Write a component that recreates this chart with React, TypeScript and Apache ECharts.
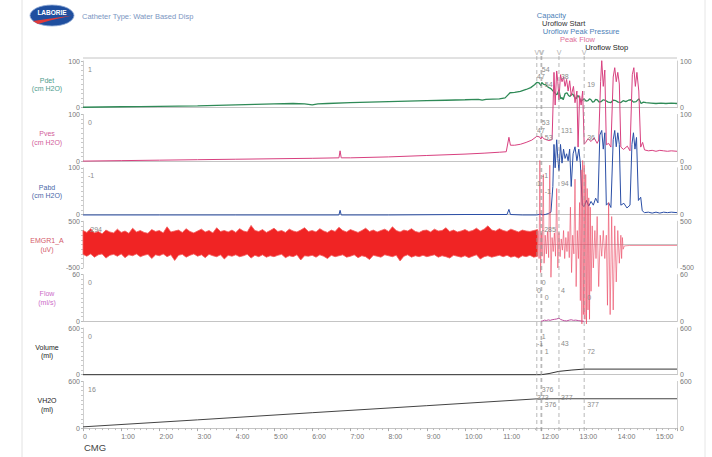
import React, { useEffect, useRef } from "react";
import * as echarts from "echarts";

const FONT = "'Liberation Sans', Arial, sans-serif";

// ---- layout of the stacked channel panels ----
const PLOT_LEFT = 83;
const PLOT_RIGHT = 35;
const PANEL_TOP = 61;
const PANEL_PITCH = 53.4;
const PANEL_HEIGHT = 46.7;
const TIME_MAX = 15.55; // minutes

// ---- channels ----
const channelNames = ["Pdet", "Pves", "Pabd", "EMGR1_A", "Flow", "Volume", "VH2O"];
const channelUnits = ["(cm H2O)", "(cm H2O)", "(cm H2O)", "(uV)", "(ml/s)", "(ml)", "(ml)"];
const channelMin = [0, 0, 0, -500, 0, 0, 0];
const channelMax = [100, 100, 100, 500, 60, 600, 600];
const titleColors = ["#4e9c8c", "#d2609a", "#4a68a8", "#d45a6a", "#cc6cc8", "#222222", "#222222"];
const traceColors = ["#2f8a57", "#d8407f", "#2a4ea6", "#f02424", "#c050a0", "#333333", "#444444"];

// ---- events (minutes) ----
const eventNames = ["Capacity", "Uroflow Start", "Uroflow Peak Pressure", "Peak Flow", "Uroflow Stop"];
const eventTimes = [11.88, 11.99, 12.01, 12.46, 13.12];
const eventColors = ["#4d7fb8", "#333333", "#4d7fb8", "#e0709a", "#222222"];
const eventRows = [0, 1, 2, 1, 2];
const eventDx = [5, -4, 3, 2, 3];

// values read out at t = 0 and at each event, per channel
const startValues = ["1", "0", "-1", "-294", "0", "0", "16"];
const eventValues: (string | null)[][] = [
  ["54", "47", "54", "38", "19"],
  ["53", "47", "53", "131", "36"],
  ["-1", "1", "-1", "94", null],
  ["-285", null, null, null, null],
  ["0", "0", "0", "4", "0"],
  ["1", "-1", "1", "43", "72"],
  ["376", "373", "376", "377", "377"],
];

// ---- traces: [minutes, value] ----
const pdetData = [
  [0, 1], [0.5, 1.5], [1, 2], [1.5, 2.5], [2, 3], [2.5, 3.5], [3, 4], [3.5, 5], [4, 6], [4.5, 7],
  [5, 8], [5.5, 9], [5.8, 8], [6.0, 6], [6.15, 8], [6.4, 9], [7, 11], [7.5, 12], [8, 13], [8.5, 14],
  [9, 15], [9.5, 16], [10, 17], [10.35, 18], [10.45, 16], [10.55, 18], [10.9, 19], [11.05, 21],
  [11.12, 27], [11.18, 32], [11.3, 33], [11.45, 35], [11.6, 39], [11.72, 43], [11.82, 49], [11.88, 54],
  [11.94, 53], [11.99, 47], [12.01, 54], [12.06, 50], [12.12, 49], [12.16, 45], [12.2, 43], [12.25, 41],
  [12.29, 37], [12.33, 34], [12.37, 30], [12.41, 28], [12.46, 38], [12.49, 25], [12.51, 19], [12.54, 22],
  [12.57, 17], [12.62, 30], [12.67, 32], [12.71, 26], [12.75, 24], [12.79, 30], [12.83, 28], [12.87, 22],
  [12.91, 19], [12.95, 26], [12.98, 24], [13.01, 18], [13.04, 15], [13.09, 17], [13.12, 19], [13.17, 14],
  [13.22, 15], [13.26, 19], [13.3, 17], [13.34, 12], [13.38, 13], [13.42, 18], [13.46, 17], [13.51, 12],
  [13.56, 13], [13.62, 17], [13.69, 15], [13.75, 12], [13.82, 11], [13.88, 16], [13.95, 15], [14.01, 12],
  [14.08, 11], [14.14, 15], [14.21, 13], [14.28, 16], [14.35, 17], [14.41, 12], [14.48, 13], [14.55, 19],
  [14.61, 9], [14.67, 12], [14.74, 11], [14.87, 10], [15.0, 9], [15.13, 10], [15.26, 9], [15.4, 10], [15.55, 9],
];

const pvesData = [
  [0, 0], [1, 1], [2, 2], [3, 3], [4, 4], [5, 5], [6, 6], [6.7, 7], [6.73, 22], [6.76, 7], [7, 7],
  [8, 9], [9, 12], [10, 15], [10.5, 17], [10.9, 19], [11.08, 20], [11.15, 51], [11.19, 34], [11.3, 34],
  [11.45, 36], [11.6, 40], [11.75, 45], [11.88, 53], [11.95, 52], [11.99, 47], [12.01, 53], [12.06, 48],
  [12.12, 46], [12.2, 44], [12.28, 46], [12.33, 190], [12.36, 120], [12.4, 193], [12.43, 170], [12.46, 131],
  [12.5, 185], [12.54, 170], [12.58, 180], [12.62, 160], [12.66, 175], [12.7, 150], [12.74, 172],
  [12.78, 140], [12.84, 160], [12.88, 125], [12.93, 150], [12.96, 30], [13.0, 140], [13.04, 120],
  [13.08, 150], [13.12, 36], [13.16, 40], [13.22, 48], [13.3, 42], [13.38, 50], [13.46, 38], [13.5, 45],
  [13.55, 170], [13.58, 215], [13.62, 160], [13.66, 195], [13.7, 35], [13.76, 38], [13.82, 30],
  [13.88, 180], [13.92, 200], [13.96, 170], [14.0, 190], [14.04, 165], [14.08, 30], [14.15, 25],
  [14.25, 32], [14.32, 22], [14.38, 185], [14.42, 200], [14.46, 160], [14.5, 190], [14.55, 150],
  [14.6, 30], [14.65, 40], [14.7, 24], [14.8, 22], [14.9, 23], [15.0, 21], [15.1, 23], [15.2, 22],
  [15.3, 21], [15.4, 22], [15.55, 21],
];

const pabdData = [
  [0, -1], [2, -1], [4, -1], [6.7, -1], [6.73, 9], [6.76, -1], [8, -1], [10, 0], [11.1, 0], [11.15, 11],
  [11.19, 0], [11.5, -1], [11.88, -1], [11.99, 1], [12.01, -1], [12.1, 0], [12.18, 2], [12.25, 5],
  [12.3, 60], [12.33, 150], [12.36, 100], [12.4, 160], [12.43, 120], [12.46, 94], [12.5, 150],
  [12.54, 110], [12.58, 140], [12.62, 120], [12.66, 130], [12.7, 115], [12.74, 140], [12.78, 60],
  [12.83, 130], [12.88, 145], [12.93, 115], [12.98, 140], [13.02, 110], [13.07, 20], [13.12, 17],
  [13.18, 30], [13.24, 18], [13.3, 28], [13.36, 20], [13.42, 35], [13.48, 25], [13.53, 170], [13.58, 180],
  [13.62, 140], [13.66, 175], [13.7, 20], [13.76, 25], [13.82, 15], [13.88, 160], [13.92, 180],
  [13.96, 145], [14.0, 175], [14.04, 150], [14.08, 20], [14.16, 24], [14.24, 14], [14.32, 20],
  [14.37, 150], [14.41, 175], [14.45, 140], [14.49, 165], [14.54, 30], [14.6, 37], [14.64, 8],
  [14.7, 4], [14.8, 5], [14.9, 3], [15.0, 5], [15.1, 3], [15.2, 5], [15.3, 4], [15.4, 5], [15.55, 4],
];

// EMG envelope during filling, sampled every EMG_STEP minutes (uV)
const EMG_STEP = 0.1;
const emgUpper = [
  300, 260, 340, 250, 280, 230, 310, 270, 250, 330,
  260, 290, 240, 350, 270, 300, 260, 240, 320, 280,
  300, 250, 380, 270, 290, 310, 260, 340, 280, 250,
  290, 330, 270, 300, 250, 360, 280, 300, 270, 310,
  260, 340, 290, 270, 410, 300, 280, 320, 260, 300,
  350, 280, 300, 260, 330, 290, 270, 310, 360, 280,
  300, 270, 340, 290, 260, 310, 280, 370, 300, 270,
  320, 290, 260, 300, 350, 280, 310, 270, 300, 330,
  280, 380, 300, 270, 310, 290, 340, 280, 260, 300,
  310, 270, 330, 290, 300, 360, 280, 310, 270, 290,
  320, 280, 300, 350, 290, 330, 400, 310, 290, 340,
  300, 280, 330, 300, 270, 310, 290, 280, 300, 320,
];
const emgLower = [
  -210, -250, -200, -270, -220, -200, -290, -230, -210, -250,
  -200, -280, -220, -240, -200, -260, -230, -210, -300, -220,
  -240, -200, -260, -220, -340, -230, -210, -270, -230, -200,
  -250, -220, -280, -210, -240, -260, -220, -310, -230, -250,
  -220, -260, -240, -210, -290, -230, -260, -220, -270, -240,
  -260, -230, -210, -280, -240, -260, -220, -330, -240, -250,
  -230, -270, -220, -250, -300, -230, -260, -240, -220, -270,
  -250, -220, -280, -240, -260, -320, -230, -250, -270, -220,
  -240, -260, -230, -350, -250, -220, -270, -240, -260, -230,
  -260, -240, -220, -270, -240, -260, -290, -230, -250, -270,
  -240, -280, -250, -220, -310, -260, -240, -270, -250, -230,
  -260, -230, -270, -250, -290, -240, -260, -230, -270, -250,
];

// EMG during voiding and after
const emgVoidData = [
  [11.92, 300], [11.94, -300], [11.96, 1800], [11.98, -600], [12.0, 250], [12.02, -250], [12.05, 1500],
  [12.07, -400], [12.1, 200], [12.13, -200], [12.16, 280], [12.19, -280], [12.22, 1700], [12.25, -700],
  [12.28, 150], [12.31, -150], [12.34, 250], [12.37, -250], [12.4, 1200], [12.43, -500], [12.46, 260],
  [12.49, -260], [12.52, 120], [12.55, -120], [12.58, 300], [12.61, -300], [12.64, 150], [12.67, -150],
  [12.7, 280], [12.73, -280], [12.76, 800], [12.79, -600], [12.82, 200], [12.85, -200], [12.88, 1400],
  [12.91, -900], [12.94, 300], [12.97, -300], [13.0, 900], [13.02, -1200], [13.04, 1600], [13.06, -1700],
  [13.08, 1800], [13.1, -1500], [13.12, 1700], [13.14, -1600], [13.16, 1500], [13.18, -1700],
  [13.2, 1200], [13.22, -1400], [13.24, 1000], [13.26, -1600], [13.28, 800], [13.3, -1000], [13.33, 400],
  [13.36, -500], [13.4, 300], [13.43, -300], [13.46, 600], [13.5, -900], [13.54, 200], [13.58, -250],
  [13.62, 300], [13.66, -300], [13.7, 200], [13.73, -1300], [13.76, 900], [13.8, -1500], [13.84, 600],
  [13.88, -1400], [13.92, 400], [13.96, -800], [14.0, 300], [14.04, -400], [14.08, 200], [14.1, -300],
  [14.12, 150], [14.14, -100], [14.17, -30], [14.3, -20], [15.55, -20],
];

const flowData = [
  [11.99, 0], [12.03, 0.5], [12.08, 1.5], [12.13, 1], [12.18, 1.8], [12.23, 1.2], [12.28, 2],
  [12.34, 2.5], [12.4, 3], [12.46, 4], [12.5, 2.5], [12.55, 1.5], [12.6, 0.8], [12.66, 0.5],
  [12.73, 1.5], [12.78, 2], [12.84, 1.2], [12.9, 1.5], [12.98, 0.8], [13.06, 0.3], [13.12, 0],
];

const volumeData = [
  [0, 0], [11.88, 0], [11.99, 0], [12.01, 1], [12.2, 15], [12.46, 43], [12.8, 60], [13.12, 72], [15.55, 72],
];

const vh2oData = [
  [0, 16], [3, 106], [6, 198], [9, 288], [11.88, 376], [11.99, 373], [12.01, 376], [12.46, 377],
  [13.12, 377], [15.55, 377],
];

const seriesData = [pdetData, pvesData, pabdData, emgVoidData, flowData, volumeData, vh2oData];
const emgBand = emgUpper.map((u, i) => [+(i * EMG_STEP).toFixed(2), u, emgLower[i]]);

function panelTop(k: number) {
  return PANEL_TOP + k * PANEL_PITCH;
}

function buildOption() {
  const grids: any[] = [];
  const xAxes: any[] = [];
  const yAxes: any[] = [];
  const series: any[] = [];
  const last = channelNames.length - 1;

  channelNames.forEach((name, k) => {
    grids.push({ left: PLOT_LEFT, right: PLOT_RIGHT, top: panelTop(k), height: PANEL_HEIGHT });
    xAxes.push({
      type: "value",
      gridIndex: k,
      min: 0,
      max: TIME_MAX,
      interval: 1,
      offset: 3,
      axisLine: { show: true, lineStyle: { color: "#c4c4c4", width: 1 } },
      axisTick: { show: k === last, length: 3, lineStyle: { color: "#aaaaaa" } },
      minorTick: { show: k === last, splitNumber: 6, length: 2, lineStyle: { color: "#bbbbbb" } },
      splitLine: { show: false },
      axisLabel: {
        show: k === last,
        align: "left",
        margin: 2,
        fontSize: 7,
        color: "#777777",
        fontFamily: FONT,
        formatter: (v: number) => (Math.abs(v - Math.round(v)) > 1e-6 ? "" : v === 0 ? "0" : `${v}:00`),
      },
    });
    const yBase = {
      type: "value",
      gridIndex: k,
      min: channelMin[k],
      max: channelMax[k],
      interval: channelMax[k] - channelMin[k],
      splitLine: { show: false },
      axisLine: { show: true, lineStyle: { color: "#cfcfcf", width: 1 } },
      axisLabel: { fontSize: 7, color: "#777777", fontFamily: FONT, margin: 3 },
    };
    yAxes.push({
      ...yBase,
      position: "left",
      axisTick: { show: true, length: 2, lineStyle: { color: "#bbbbbb" } },
      minorTick: { show: true, splitNumber: 10, length: 2, lineStyle: { color: "#c8c8c8" } },
    });
    yAxes.push({ ...yBase, position: "right", axisTick: { show: false } });
  });

  // EMG filling activity drawn as a filled envelope band
  series.push({
    type: "custom",
    name: "EMG band",
    xAxisIndex: 3,
    yAxisIndex: 6,
    encode: { x: 0, y: [1, 2] },
    data: emgBand,
    clip: false,
    renderItem: (params: any, api: any) => {
      if (params.dataIndexInside !== 0) return null;
      const n = params.dataInsideLength;
      const top: number[][] = [];
      const bot: number[][] = [];
      for (let i = 0; i < n; i++) {
        const t = api.value(0, i);
        top.push(api.coord([t, api.value(1, i)]));
        bot.push(api.coord([t, api.value(2, i)]));
      }
      return {
        type: "polygon",
        shape: { points: top.concat(bot.reverse()) },
        style: { fill: traceColors[3], stroke: "#f25a5a", lineWidth: 0.8 },
      };
    },
  });

  seriesData.forEach((data, k) => {
    series.push({
      type: "line",
      name: channelNames[k],
      xAxisIndex: k,
      yAxisIndex: 2 * k,
      data,
      clip: false,
      showSymbol: false,
      symbol: "none",
      z: k === 3 ? 4 : 3,
      lineStyle: {
        color: k === 3 ? "#ea4660" : traceColors[k],
        width: k === 0 ? 1.3 : k === 3 ? 0.7 : 1,
        opacity: k === 3 ? 0.85 : 1,
      },
    });
  });

  return {
    animation: false,
    backgroundColor: "#ffffff",
    textStyle: { fontFamily: FONT },
    grid: grids,
    xAxis: xAxes,
    yAxis: yAxes,
    series,
  };
}

function buildGraphics(chart: echarts.ECharts) {
  const px = (t: number) => chart.convertToPixel({ xAxisIndex: 0 }, t) as number;
  const py = (k: number, v: number) => chart.convertToPixel({ yAxisIndex: 2 * k }, v) as number;
  const els: any[] = [];
  const txt = (x: number, y: number, text: string, fill: string, size = 7, extra: any = {}) => ({
    type: "text",
    x,
    y,
    silent: true,
    z: 10,
    style: { text, fill, fontSize: size, fontFamily: FONT, verticalAlign: "middle", ...extra },
  });

  // page edges
  els.push({ type: "line", shape: { x1: 22, y1: 0, x2: 22, y2: 457 }, style: { stroke: "#e2e2e2", lineWidth: 1 } });
  els.push({ type: "line", shape: { x1: 705, y1: 0, x2: 705, y2: 457 }, style: { stroke: "#e6e6e6", lineWidth: 1 } });

  // logo
  els.push({ type: "ellipse", shape: { cx: 52, cy: 15.5, rx: 22, ry: 10.5 }, style: { fill: "#1f4f9f", stroke: "#8fa9d6", lineWidth: 0.8 } });
  els.push({ type: "polygon", shape: { points: [[33, 21], [72, 15.5], [50, 20.5], [38, 24]] }, style: { fill: "#e03a3a" } });
  els.push(txt(52, 12, "LABORIE", "#ffffff", 6.5, { fontWeight: "bold", align: "center" }));
  els.push(txt(82, 16, "Catheter Type: Water Based Disp", "#7b96c2", 7.5));

  // top frame line
  const x0 = PLOT_LEFT;
  const x1 = 712 - PLOT_RIGHT;
  els.push({ type: "line", shape: { x1: x0, y1: panelTop(0) - 3, x2: x1, y2: panelTop(0) - 3 }, style: { stroke: "#c4c4c4", lineWidth: 1 } });

  // channel titles
  channelNames.forEach((name, k) => {
    const mid = panelTop(k) + PANEL_HEIGHT / 2;
    els.push(txt(47, mid - 4, name, titleColors[k], 7, { align: "center" }));
    els.push(txt(47, mid + 4.5, channelUnits[k], titleColors[k], 7, { align: "center" }));
  });

  // event markers, lines and names
  eventTimes.forEach((t, i) => {
    const x = px(t);
    els.push({
      type: "line",
      shape: { x1: x, y1: 56, x2: x, y2: panelTop(6) + PANEL_HEIGHT + 3 },
      style: { stroke: "#9a9a9a", lineWidth: 0.7, lineDash: [4, 3] },
      z: 5,
    });
    els.push(txt(x, 52.5, "V", "#b0b0b0", 7, { align: "center" }));
    els.push(txt(x + (i === 0 ? 0 : 1), 15.5 + i * 7.9, eventNames[i], eventColors[i], 7.5));
  });

  // value read-outs
  channelNames.forEach((name, k) => {
    const yTop = py(k, channelMax[k]);
    els.push(txt(px(0) + 5, yTop + 8, startValues[k], "#8a8a8a", 7));
    eventValues[k].forEach((v, i) => {
      if (v === null) return;
      els.push(txt(px(eventTimes[i]) + eventDx[i], yTop + 8 + eventRows[i] * 7.6, v, "#8a8a8a", 7));
    });
  });

  els.push(txt(84, 447.5, "CMG", "#444444", 9.5));
  return els;
}

export default function App() {
  const ref = useRef<HTMLDivElement>(null);
  useEffect(() => {
    if (!ref.current) return;
    const chart = echarts.init(ref.current, null, { renderer: "svg" });
    chart.setOption(buildOption());
    chart.setOption({ graphic: buildGraphics(chart) });
    return () => chart.dispose();
  }, []);
  return (
    <div style={{ position: "fixed", left: 0, top: 0, width: 712, height: 457, background: "#fff" }}>
      <div ref={ref} style={{ width: 712, height: 457 }} />
    </div>
  );
}
